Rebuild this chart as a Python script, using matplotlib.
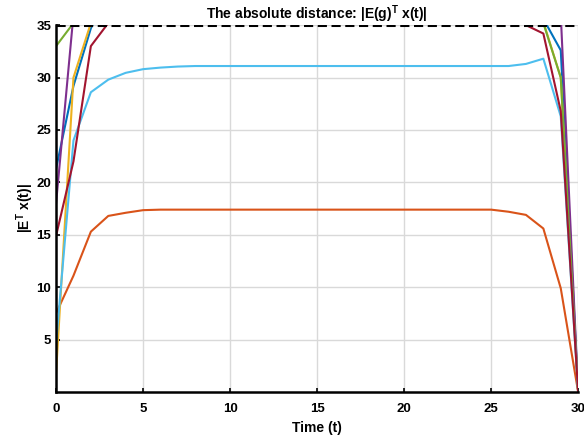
import numpy as np
import matplotlib
matplotlib.use('Agg')
import matplotlib.pyplot as plt

plt.rcParams['font.family'] = ['Liberation Sans', 'DejaVu Sans']
plt.rcParams['font.weight'] = 'bold'
plt.rcParams['mathtext.fontset'] = 'custom'
plt.rcParams['mathtext.bf'] = 'Liberation Sans:bold'
plt.rcParams['mathtext.rm'] = 'Liberation Sans:bold'
plt.rcParams['mathtext.default'] = 'bf'

t = np.arange(0, 31)

# series values (values above 35 are clipped by the axis limit)
blue = [21.3, 29.2, 34.7] + [38.0] * 25 + [35.6, 32.6, 0]
orange = [7.5, 11.1, 15.3, 16.8, 17.1, 17.35] + [17.4] * 20 + [17.2, 16.9, 15.6, 9.9, 0]
yellow = [1.8, 30.0, 35.2] + [40.0] * 25 + [35.3, 30.0, 0]
purple = [18.0, 36.0] + [45.0] * 27 + [36.0, 0]
green = [33.0, 35.2] + [42.0] * 26 + [35.2, 30.0, 0]
cyan = [4.6, 24.0, 28.6, 29.8, 30.45, 30.8, 30.95, 31.05] + [31.1] * 18 + [31.1, 31.3, 31.8, 26.3, 0]
darkred = [14.9, 22.0, 33.0, 35.2] + [39.0] * 23 + [35.0, 34.2, 26.8, 0]

series = [blue, orange, yellow, purple, green, cyan, darkred]
colors = ['#0072BD', '#D95319', '#EDB120', '#7E2F8E', '#77AC30', '#4DBEEE', '#A2142F']

fig = plt.figure(figsize=(5.84, 4.41), dpi=100)
ax = fig.add_axes([0.096, 0.111, 0.894, 0.832])

for y, c in zip(series, colors):
    ax.plot(t, y, color=c, lw=1.5)

ax.axhline(35, color='black', lw=2.2, ls=(0, (3, 1.5)), zorder=5)

ax.set_xlim(0, 30)
ax.set_ylim(0, 35)
ax.set_xticks(np.arange(0, 31, 5))
ax.set_yticks(np.arange(5, 36, 5))
ax.grid(True, color='#d9d9d9', lw=1)
ax.set_axisbelow(True)
for s in ['top', 'right']:
    ax.spines[s].set_visible(False)
for s in ['left', 'bottom']:
    ax.spines[s].set_linewidth(1.8)
ax.tick_params(direction='in', length=3, width=1.2, labelsize=9.5)
ax.tick_params(axis='x', pad=8)
for lab in ax.get_xticklabels() + ax.get_yticklabels():
    lab.set_fontweight('bold')

ax.set_title('The absolute distance: |E(g)$^{T}$ x(t)|', fontsize=10, fontweight='bold', pad=3)
ax.set_xlabel('Time (t)', fontsize=10, fontweight='bold', labelpad=4)
ax.set_ylabel('|E$^{T}$ x(t)|', fontsize=10, fontweight='bold', labelpad=0)

fig.savefig('out.png', dpi=100)
